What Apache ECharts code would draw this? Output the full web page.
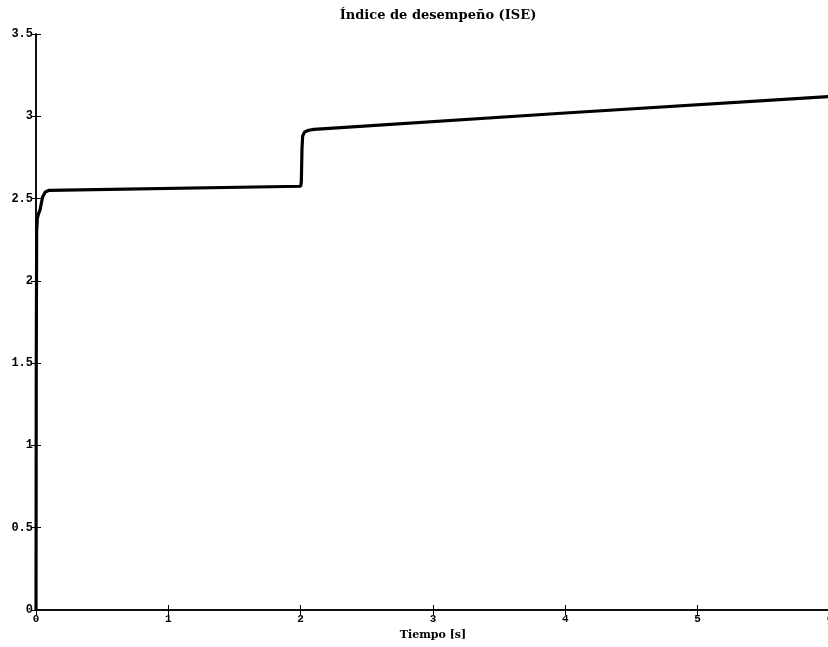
<!DOCTYPE html>
<html>
<head>
<meta charset="utf-8">
<script src="https://cdn.jsdelivr.net/npm/echarts@6/dist/echarts.min.js"></script>
<style>
  html, body { margin: 0; padding: 0; background: #fff; }
  #graf { width: 828px; height: 647px; }
</style>
</head>
<body>
<div id="graf"></div>
<script>
// datos
var tiempo = [0, 0.002, 0.005, 0.01, 0.02, 0.03, 0.04, 0.05, 0.07, 0.1, 2.0, 2.005, 2.01, 2.015, 2.03, 2.06, 2.1, 4.0, 6.0];
var ise    = [0, 1.5, 2.3, 2.38, 2.41, 2.43, 2.47, 2.51, 2.54, 2.55, 2.575, 2.6, 2.8, 2.88, 2.905, 2.915, 2.92, 3.02, 3.12];
var ticksX = [0, 1, 2, 3, 4, 5, 6];
var ticksY = [0, 0.5, 1, 1.5, 2, 2.5, 3, 3.5];

var puntos = tiempo.map(function (t, i) { return [t, ise[i]]; });

var myChart = echarts.init(document.getElementById('graf'));

var monoLabel = {
  fontFamily: 'Liberation Mono',
  fontWeight: 'bold',
  fontSize: 12,
  color: '#000'
};

var option = {
  animation: false,
  backgroundColor: '#fff',
  title: {
    text: 'Índice de desempeño (ISE)',
    left: 433,
    top: 4,
    textAlign: 'center',
    textStyle: {
      fontFamily: 'DejaVu Serif',
      fontWeight: 'bold',
      fontSize: 13,
      color: '#000'
    }
  },
  grid: { left: 36, top: 34, right: -2, bottom: 37, containLabel: false, outerBoundsMode: 'none' },
  xAxis: [
    {
      type: 'value',
      min: ticksX[0],
      max: ticksX[ticksX.length - 1],
      interval: 1,
      name: 'Tiempo [s]',
      nameLocation: 'middle',
      nameGap: 20,
      nameTextStyle: { fontFamily: 'DejaVu Serif', fontWeight: 'bold', fontSize: 11, color: '#000' },
      axisLine: { show: true, lineStyle: { color: '#000', width: 1.5 } },
      axisTick: { inside: true, length: 5, lineStyle: { color: '#000' } },
      axisLabel: Object.assign({ margin: 4 }, monoLabel, { fontSize: 11 }),
      splitLine: { show: false }
    },
    {
      type: 'value',
      position: 'top',
      min: 0, max: 6, interval: 1,
      axisLine: { show: true, lineStyle: { color: '#000', width: 1.5 } },
      axisTick: { inside: true, length: 5, lineStyle: { color: '#000' } },
      axisLabel: { show: false },
      splitLine: { show: false }
    }
  ],
  yAxis: [
    {
      type: 'value',
      min: ticksY[0],
      max: ticksY[ticksY.length - 1],
      interval: 0.5,
      axisLine: { show: true, lineStyle: { color: '#000', width: 1.5 } },
      axisTick: { inside: true, length: 5, lineStyle: { color: '#000' } },
      axisLabel: Object.assign({ margin: 3 }, monoLabel),
      splitLine: { show: false }
    },
    {
      type: 'value',
      position: 'right',
      min: 0, max: 3.5, interval: 0.5,
      axisLine: { show: true, lineStyle: { color: '#000', width: 1.5 } },
      axisTick: { inside: true, length: 5, lineStyle: { color: '#000' } },
      axisLabel: { show: false },
      splitLine: { show: false }
    }
  ],
  series: [
    {
      name: 'ISE',
      type: 'line',
      data: puntos,
      showSymbol: false,
      clip: true,
      lineStyle: { color: '#000', width: 3.2 }
    }
  ]
};

myChart.setOption(option);
</script>
</body>
</html>
